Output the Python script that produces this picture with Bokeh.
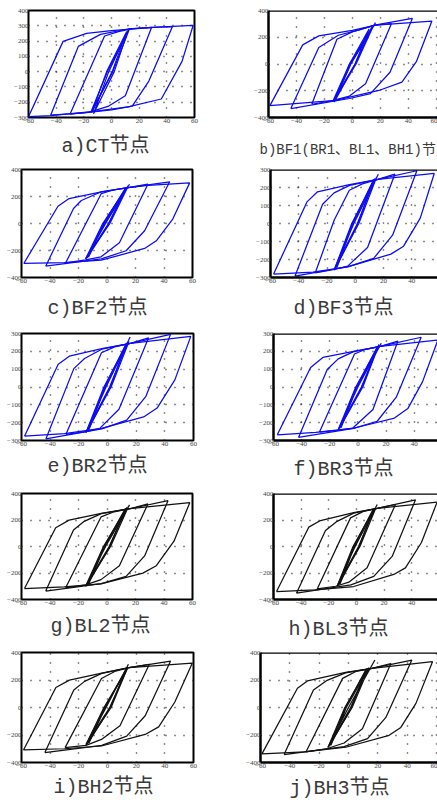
from bokeh.plotting import figure
from bokeh.models import Range1d, FixedTicker, Span, Title
from bokeh.layouts import column, row
from bokeh.embed import file_html
from bokeh.resources import INLINE

# ---------------- data ----------------
X_TICKS = [-60, -40, -20, 0, 20, 40, 60]
Y_TICKS_A = [-300, -200, -100, 0, 100, 200, 300, 400]
Y_TICKS_300 = [-300, -200, -100, 0, 100, 200, 300]
Y_TICKS_400 = [-400, -200, 0, 200, 400]

TITLES = ["a)CT节点", "b)BF1(BR1、BL1、BH1)节点", "c)BF2节点", "d)BF3节点",
          "e)BR2节点", "f)BR3节点", "g)BL2节点", "h)BL3节点", "i)BH2节点", "j)BH3节点"]

CT_X = [[-60, -35, -18, 0, 30, 59, 51, 36, 12, -14, -44, -60],
        [-44, -24, -8, 12, 30, 44, 27, 15, 0, -20, -44],
        [-30, -5, 5, 14, 29, 10, -2, -16, -30],
        [-15, -3, 13, 1, -15],
        [-13, -2, 12, 2, -13],
        [-14, -3.5, 11, 0.5, -14]]
CT_Y = [[-295, 198, 250, 268, 290, 302, 67, -179, -231, -262, -287, -295],
        [-285, 165, 244, 279, 289, 294, -62, -225, -250, -270, -285],
        [-278, 233, 262, 279, 290, -158, -225, -265, -278],
        [-268, 0, 280, 0, -268],
        [-275, 0, 270, 0, -275],
        [-262, 0, 262, 0, -262]]

BF1_X = [[-59, -35.5, -24, 0, 17, 57, 46, 35.5, 19, -12, -59],
         [-44, -24, -10, 5, 17, 43, 27, 13, -2, -44],
         [-29, -11, 0, 16, 28, 9.5, -2, -15, -29],
         [-14, -2, 14, 2, -14],
         [-13, -1.3, 15, 2.7, -13],
         [-12, -2, 12, 2, -13, -1, 16.6]]
BF1_Y = [[-311, 143, 210, 252, 291, 321, 20, -136, -198, -272, -311],
         [-333, 123, 215, 255, 292, 341, -62, -222, -258, -333],
         [-301, 185, 240, 291, 301, -148, -240, -275, -301],
         [-280, 0, 275, 0, -280],
         [-272, 0, 285, 0, -272],
         [-265, 0, 262, 0, -285, 0, 309]]

BF2_X = [[-58.4, -34.4, -26.6, -4, 16, 28.7, 58, 46, 34.6, 26.4, -4, -30, -58.4],
         [-43, -23.5, -18, -4, 16, 44, 26.4, 13.4, -4, -43],
         [-29, -4, 5, 16, 28.7, 8.7, -4.2, -15, -29],
         [-15, -3, 14, 1, -15],
         [-14, -2.5, 13, 1.5, -14],
         [-13, -2, 15, 2, -15, -1, 15.8]]
BF2_Y = [[-296, 128, 185, 235, 267, 282, 301, 30, -128, -185, -272, -290, -296],
         [-316, 111, 170, 235, 267, 309, -54, -202, -262, -316],
         [-291, 222, 250, 267, 291, -143, -247, -270, -291],
         [-262, 0, 270, 0, -262],
         [-255, 0, 262, 0, -255],
         [-250, 0, 280, 0, -262, 0, 291]]

BF3_X = [[-57.8, -34.2, -26.7, -5, 16, 55.9, 46, 34.2, 25.2, -5.4, -30, -57.8],
         [-42.7, -23.1, -15, -4, 16, 43.6, 26.4, 13, -5, -42.7],
         [-28.3, -14.9, -4.2, 5, 16, 28, 8.7, -5.4, -15, -28.3],
         [-15, -2.5, 14, 1.5, -15],
         [-14, -2, 13, 2, -14],
         [-13, -1.5, 15, 2.5, -15, -1, 16.3]]
BF3_Y = [[-281, 120, 176, 215, 245, 278, 30, -126, -170, -241, -270, -281],
         [-293, 107, 170, 212, 245, 293, -65, -194, -240, -293],
         [-274, 19, 185, 220, 245, 274, -133, -237, -255, -274],
         [-260, 0, 250, 0, -260],
         [-250, 0, 245, 0, -250],
         [-245, 0, 255, 0, -258, 0, 274]]

BR2_X = [[-57.9, -34.4, -26.6, -4, 16, 58.1, 47, 34.6, 25.2, -4.2, -30, -57.9],
         [-43, -23.5, -16, -4, 16, 44, 26.8, 13.4, -4, -43],
         [-29, -4.2, 5, 16, 28.7, 8, -5.4, -15, -29],
         [-15, -2.5, 14, 1.5, -15],
         [-14, -2, 13, 2, -14],
         [-13, -1.5, 15, 2.5, -15, -1, 15.8]]
BR2_Y = [[-276, 127, 173, 215, 245, 284, 40, -118, -168, -232, -262, -276],
         [-291, 103, 160, 212, 245, 295, -52, -186, -235, -291],
         [-265, 192, 225, 245, 276, -125, -232, -250, -265],
         [-255, 0, 250, 0, -255],
         [-248, 0, 242, 0, -248],
         [-240, 0, 255, 0, -255, 0, 280]]

BR3_X = [[-57.3, -33.6, -24.9, -3, 16, 56.9, 46, 35.5, 26, -2.4, -30, -57.3],
         [-42.2, -21.8, -14, -3, 16, 45, 27.3, 13.7, -3, -42.2],
         [-27.3, -2.4, 5, 16, 28.4, 10.7, -3.6, -15, -27.3],
         [-14, -1.5, 15, 2.5, -14],
         [-13, -1, 14, 3, -13],
         [-12, -0.5, 15, 3.5, -14, 0, 16.6]]
BR3_Y = [[-268, 109, 166, 200, 228, 264, 30, -121, -174, -230, -255, -268],
         [-283, 98, 158, 198, 228, 279, -57, -192, -232, -283],
         [-253, 185, 210, 228, 257, -126, -230, -243, -253],
         [-240, 0, 235, 0, -240],
         [-232, 0, 228, 0, -232],
         [-228, 0, 238, 0, -240, 0, 245]]

BL2_X = [[-57.9, -36, -26.6, -4, 16, 58.1, 47, 34.6, 25.2, -4.2, -30, -57.9],
         [-43, -23.5, -16, -4, 16, 42.8, 26.4, 13.4, -4, -43],
         [-29, -4.2, 5, 16, 28.7, 8.7, -4.2, -15, -29],
         [-15, -2.5, 14, 1.5, -15],
         [-14, -2, 13, 2, -14],
         [-13, -1.5, 15, 2.5, -15, -1, 15.8]]
BL2_Y = [[-317, 142, 199, 250, 285, 331, 40, -145, -201, -282, -305, -317],
         [-336, 125, 190, 248, 285, 346, -71, -226, -280, -336],
         [-312, 223, 262, 285, 321, -145, -250, -290, -312],
         [-300, 0, 295, 0, -300],
         [-292, 0, 288, 0, -292],
         [-285, 0, 300, 0, -300, 0, 314]]

BL3_X = [[-57.8, -34.5, -26, -2, 15, 58.3, 47, 35.4, 27, -2, -30, -57.8],
         [-43.4, -22.4, -14, -2, 15, 42.7, 25.8, 12.5, -4, -43.4],
         [-28.4, -4.3, 5, 15, 28.2, 7.7, -5.5, -15, -28.4],
         [-14, -2.5, 13, 1.5, -14],
         [-13, -2, 12, 2, -13],
         [-12, -1.5, 14, 2.5, -14, -1, 15]]
BL3_Y = [[-340, 146, 196, 255, 288, 335, 30, -161, -211, -302, -328, -340],
         [-352, 121, 190, 252, 288, 352, -75, -226, -290, -352],
         [-320, 216, 265, 288, 317, -161, -269, -300, -320],
         [-300, 0, 285, 0, -300],
         [-292, 0, 278, 0, -292],
         [-285, 0, 290, 0, -300, 0, 317]]

BH2_X = [[-58.6, -36, -26.6, -4, 15, 59.2, 47, 35.7, 26.3, -4.2, -30, -58.6],
         [-43.7, -23.5, -16, -4, 15, 44, 26.3, 13.4, -4, -43.7],
         [-29.6, -4.2, 5, 15, 29.2, 8.7, -4.2, -15, -29.6],
         [-15, -2.5, 14, 1.5, -15],
         [-14, -2, 13, 2, -14],
         [-13, -1.5, 14, 2.5, -15, -1, 14.6]]
BH2_Y = [[-309, 146, 199, 250, 290, 323, 40, -141, -196, -280, -300, -309],
         [-328, 127, 190, 248, 290, 338, -60, -208, -275, -328],
         [-292, 211, 262, 290, 314, -132, -232, -275, -292],
         [-270, 0, 285, 0, -270],
         [-265, 0, 278, 0, -265],
         [-260, 0, 290, 0, -272, 0, 314]]

BH3_X = [[-59, -34.8, -28, -2, 16, 57.3, 46, 35.7, 27.7, -1.8, -30, -59],
         [-43.9, -23.9, -15, -2, 16, 43.2, 25.5, 13, -3, -43.9],
         [-29, -4, 5, 16, 28.9, 9.5, -3, -15, -29],
         [-14, -2.5, 13, 1.5, -14],
         [-13, -2, 12, 2, -13],
         [-12, -1.5, 14, 2.5, -14, 0, 18]]
BH3_Y = [[-337, 140, 193, 255, 285, 333, 30, -145, -202, -289, -322, -337],
         [-342, 128, 195, 252, 285, 345, -72, -226, -285, -342],
         [-323, 212, 262, 285, 320, -154, -258, -300, -323],
         [-290, 0, 285, 0, -290],
         [-282, 0, 278, 0, -282],
         [-275, 0, 290, 0, -290, 0, 345]]

# ---------------- layout / style ----------------
BLUE = "#0b0bf5"
BLACK = "#111111"
TITLE_FONT = "Liberation Mono, Noto Sans CJK SC"
TICK_FONT = "Liberation Serif"

LEFT_W = 226
RIGHT_W = 211
ROW_TOP = [0, 160, 320, 480, 640]
ROW_H = [160, 160, 160, 160, 160]
TITLE_STANDOFF = -10
AXIS_H = 9          # height of the x tick-label band
LINE_H = 1.3        # caption line box / font size

# col, row, frame L, R, T, B (window px), x end, y range, y ticks, title x, title y, size, align, colour
GEOM = [
    (0, 0, 28, 194, 10, 120, 60, (-300, 400), Y_TICKS_A, 105, 147, 20, "center", BLUE),
    (1, 0, 268, None, 9, 117, 61, (-400, 400), Y_TICKS_400, 259, 147, 14, "left", BLUE),
    (0, 1, 21, 192, 169, 277, 60, (-400, 400), Y_TICKS_400, 97, 306, 20, "center", BLUE),
    (1, 1, 270, None, 169, 277, 58.2, (-300, 300), Y_TICKS_300, 343, 306, 20, "center", BLUE),
    (0, 2, 21, 193, 333, 443, 60, (-300, 300), Y_TICKS_300, 97, 467, 20, "center", BLUE),
    (1, 2, 273, None, 333, 440, 56.6, (-300, 300), Y_TICKS_300, 343, 467, 20, "center", BLUE),
    (0, 3, 21, 192, 493, 602, 60, (-400, 400), Y_TICKS_400, 100, 627, 20, "center", BLACK),
    (1, 3, 273, None, 493, 599, 58.6, (-400, 400), Y_TICKS_400, 338, 627, 20, "center", BLACK),
    (0, 4, 21, 193, 652, 763, 60, (-400, 400), Y_TICKS_400, 103, 786, 20, "center", BLACK),
    (1, 4, 260, None, 651, 762, 60.7, (-400, 400), Y_TICKS_400, 339, 786, 20, "center", BLACK),
]

DATA = [(CT_X, CT_Y), (BF1_X, BF1_Y), (BF2_X, BF2_Y), (BF3_X, BF3_Y), (BR2_X, BR2_Y),
        (BR3_X, BR3_Y), (BL2_X, BL2_Y), (BL3_X, BL3_Y), (BH2_X, BH2_Y), (BH3_X, BH3_Y)]


def text_width(s, size):
    w = 0.0
    for ch in s:
        w += size * (1.0 if ord(ch) > 0x2000 else 0.6)
    return w


def make_panel(i):
    col, r, L, R, T, B, xmax, yr, yticks, tx, ty, tsize, talign, color = GEOM[i]
    xs, ys = DATA[i]
    top = ROW_TOP[r]
    h = ROW_H[r]
    if col == 0:
        fig_left = 0
        w = LEFT_W
    else:
        fig_left = LEFT_W
        w = RIGHT_W
        R = fig_left + w
    p = figure(width=w, height=h, output_backend="svg", toolbar_location=None,
               title_location=None,
               x_range=Range1d(-60, xmax), y_range=Range1d(yr[0], yr[1]))
    p.min_border_left = L - fig_left
    p.min_border_right = fig_left + w - R
    p.min_border_top = T - top
    p.min_border_bottom = top + h - B
    p.background_fill_color = "white"
    p.border_fill_color = "white"

    p.xaxis.ticker = FixedTicker(ticks=X_TICKS)
    p.yaxis.ticker = FixedTicker(ticks=yticks)
    for ax in (p.xaxis[0], p.yaxis[0]):
        ax.major_label_text_font = TICK_FONT
        ax.major_label_text_font_size = "7px"
        ax.major_label_text_color = "#444444"
        ax.major_tick_in = 0
        ax.major_tick_out = 0
        ax.minor_tick_in = 0
        ax.minor_tick_out = 0
        ax.major_label_standoff = 1
    p.yaxis[0].major_label_standoff = 0
    # a blank, tiny axis label acts as spacer between tick labels and caption
    title_box = 2 + LINE_H * tsize + TITLE_STANDOFF
    spacer = ty - B - AXIS_H - title_box / 2
    p.xaxis[0].axis_label = " "
    p.xaxis[0].axis_label_text_font_size = "1px"
    p.xaxis[0].axis_label_standoff = int(round(max(0, spacer)))

    for g in (p.xgrid[0], p.ygrid[0]):
        g.grid_line_color = "#1a1a1a"
        g.grid_line_dash = "1 8"
        g.grid_line_width = 1.4

    if col == 0:
        p.outline_line_color = "black"
        p.outline_line_width = 2
        p.xaxis.axis_line_color = None
        p.yaxis.axis_line_color = None
    else:
        p.outline_line_color = None
        p.xaxis.axis_line_color = "black"
        p.xaxis.axis_line_width = 2.5
        p.yaxis.axis_line_color = "black"
        p.yaxis.axis_line_width = 2.5
        p.add_layout(Span(location=yr[1], dimension="width", line_color="black", line_width=2.5))

    p.multi_line(xs=xs, ys=ys, line_color=color, line_width=1.25)

    # caption under the panel
    title = TITLES[i]
    if talign == "center":
        left = tx - text_width(title, tsize) / 2
    else:
        left = tx
    t = Title(text=title, align="left", offset=left - L, standoff=TITLE_STANDOFF,
              vertical_align="middle", text_font=TITLE_FONT,
              text_font_size=f"{tsize}px", text_font_style="normal",
              text_color="#3a3a3a")
    p.add_layout(t, "below")
    return p


figs = [make_panel(i) for i in range(10)]
layout = column(*[row(figs[2 * k], figs[2 * k + 1], spacing=0) for k in range(5)], spacing=0)

open("out.html", "w").write(file_html(layout, INLINE))
